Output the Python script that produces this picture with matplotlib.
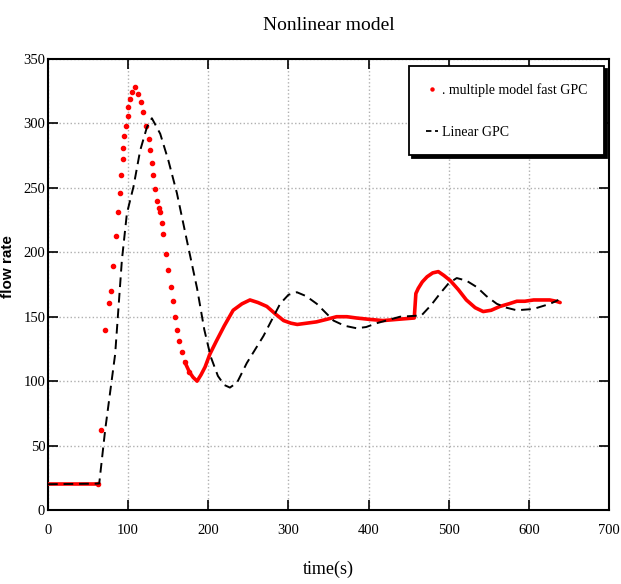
import numpy as np
import matplotlib
matplotlib.use("Agg")
import matplotlib.pyplot as plt
from matplotlib.lines import Line2D

# data
red_t = [0, 10, 20, 30, 40, 50, 60, 62, 66.5, 71.3, 76.3, 78.4, 80.9, 84.7, 87.2, 90.0,
         91.3, 93.0, 94.2, 95.4, 97.2, 99.2, 100.4, 102.5, 105.4, 108.8, 112.9, 116.3,
         119.1, 122.1, 125.4, 127.5, 129.6, 131.6, 133.7, 135.8, 138.0, 140.0, 142.0,
         144.1, 147.4, 150.3, 153.3, 155.8, 158.7, 161.5, 164.0, 167.0, 170.6, 176.5,
         181, 186, 191, 196, 202, 210, 220, 231, 242, 252, 262, 273, 284, 294, 303, 311,
         323, 335, 348, 360, 373, 385, 400, 418, 437, 457, 459, 462, 467, 473, 480, 487,
         494, 502, 512, 522, 533, 543, 553, 564, 575, 585, 595, 606, 616, 626, 634, 639]
red_y = [20, 20, 20, 20, 20, 20, 20, 20, 62, 140, 161, 170, 189, 213, 231, 246,
         260, 272, 281, 290, 298, 306, 313, 319, 324, 328, 323, 317,
         309, 298, 288, 279, 269, 260, 249, 240, 234, 231, 223,
         214, 199, 186, 173, 162, 150, 140, 131, 123, 115, 107,
         103, 100, 105, 111, 121, 131, 143, 155, 160, 163, 161, 158, 152, 147, 145, 144,
         145, 146, 148, 150, 150, 149, 148, 147, 148, 149, 168, 172, 177, 181, 184, 185,
         182, 178, 171, 163, 157, 154, 155, 158, 160, 162, 162, 163, 163, 163, 162, 161]

black_t = [0, 63.9, 71.3, 83.8, 92.2, 98.4, 106.7, 115, 123.4, 129.6, 140, 150.3, 160.8,
           173, 186, 195, 203, 212, 220, 227, 236, 248, 268.8, 289.6, 300, 310.5, 322,
           335.4, 356.2, 370, 385.3, 397, 410.3, 439.3, 466, 478, 489.2, 500, 510, 522,
           535, 547, 560, 572, 584.9, 605.6, 626.4, 636.8]
black_y = [20, 20.5, 62, 121, 194, 230, 251, 279, 297, 304, 292, 271, 246,
           210, 172, 140, 119, 104, 97, 95, 99, 114, 135, 160, 167, 169, 166,
           160, 147, 143, 141, 142, 145, 150, 151, 159, 168, 176, 180, 178,
           173, 166, 160, 157, 155, 156, 160, 163]

x_ticks = [0, 100, 200, 300, 400, 500, 600, 700]
y_ticks = [0, 50, 100, 150, 200, 250, 300, 350]

serif = "Liberation Serif"

fig = plt.figure(figsize=(6.21, 5.84), dpi=100)
ax = fig.add_axes([0.0773, 0.1267, 0.9034, 0.7723])

rt = np.array(red_t)
ry = np.array(red_y)
# solid-looking parts of the red trace, separate dots on the fast swing
seg1 = rt <= 62
seg2 = rt >= 170
dots = (rt >= 62) & (rt <= 176.5)
ax.plot(rt[seg1], ry[seg1], color="red", lw=2.6, solid_capstyle="round", zorder=3)
ax.plot(rt[seg2], ry[seg2], color="red", lw=2.6, solid_capstyle="round",
        solid_joinstyle="round", zorder=3)
ax.plot(rt[dots], ry[dots], linestyle="none", marker="o", ms=3.0, color="red",
        mec="red", zorder=3)

ax.plot(black_t, black_y, color="black", lw=1.4, linestyle=(0, (5, 3)), zorder=4)

ax.set_xlim(0, 700)
ax.set_ylim(0, 350)
ax.set_xticks(x_ticks)
ax.set_yticks(y_ticks)
ax.grid(True, color="#b0b0b0", linestyle=":", linewidth=1.0)
ax.tick_params(direction="in", length=7, width=1.2, top=True, right=True,
               labelsize=10.5)
ax.tick_params(axis="x", pad=10)
ax.tick_params(axis="y", pad=2)
for lab in ax.get_xticklabels() + ax.get_yticklabels():
    lab.set_fontfamily(serif)
for sp in ax.spines.values():
    sp.set_linewidth(1.5)

ax.set_xlabel("time(s)", fontfamily=serif, fontsize=13, labelpad=17)
ax.set_ylabel("flow rate", fontfamily="Liberation Sans", fontweight="bold",
              fontsize=11)
ax.yaxis.set_label_coords(-0.058, 0.54)
ax.set_title("Nonlinear model", fontfamily=serif, fontsize=14, pad=21)

handles = [Line2D([0], [0], linestyle="none", marker="o", ms=2.2, color="red"),
           Line2D([0], [0], color="black", lw=1.3, linestyle=(0, (3, 2)))]
leg = ax.legend(handles, [". multiple model fast GPC", "Linear GPC"],
                loc="upper right", bbox_to_anchor=(0.991, 0.984),
                prop={"family": serif, "size": 10}, handlelength=0.9,
                handletextpad=0.25, labelspacing=2.1, borderpad=1.2,
                borderaxespad=0, fancybox=False, framealpha=1, edgecolor="black",
                shadow={"color": "black", "alpha": 1})
leg.get_frame().set_linewidth(1.3)

fig.savefig("out.png", dpi=100)
